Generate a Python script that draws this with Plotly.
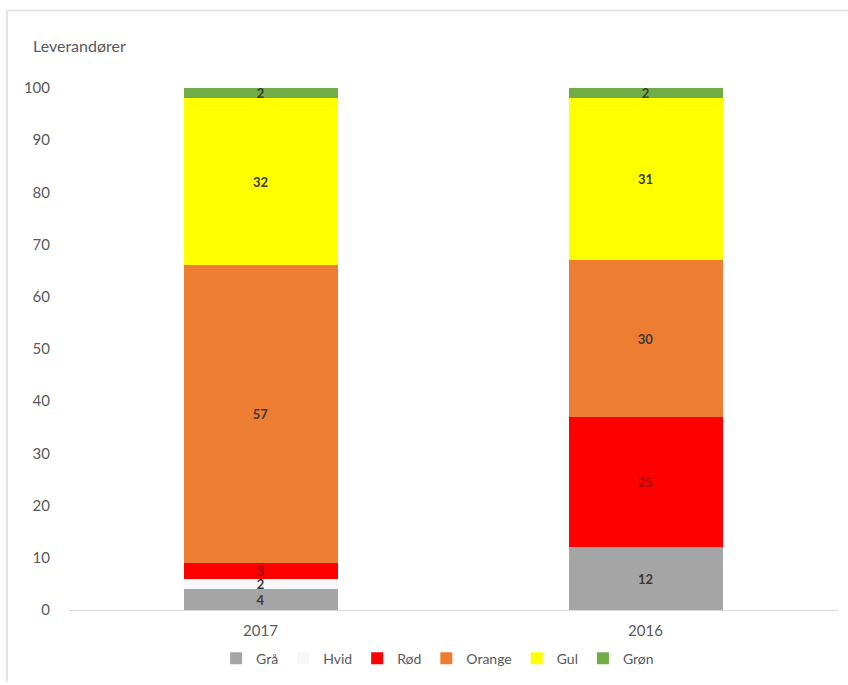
import plotly.graph_objects as go

# Supplier counts per rating colour, by year
years = ["2017", "2016"]
series_names = ["Grå", "Hvid", "Rød", "Orange", "Gul", "Grøn"]
graa = [4, 12]
hvid = [2, 0]
roed = [3, 25]
orange = [57, 30]
gul = [32, 31]
groen = [2, 2]
y_ticks = [0, 10, 20, 30, 40, 50, 60, 70, 80, 90, 100]

series_values = [graa, hvid, roed, orange, gul, groen]
fill_colors = ["#A5A5A5", "#F7F7F7", "#FF0000", "#ED7D31", "#FFFF00", "#70AD47"]
label_colors = ["#3A3A3A", "#3A3A3A", "#A00000", "#3A3A3A", "#3A3A3A", "#3A3A3A"]
FONT = "Lato, Carlito, sans-serif"

fig = go.Figure()
for name, vals, fc, lc in zip(series_names, series_values, fill_colors, label_colors):
    fig.add_trace(go.Bar(
        name=name,
        x=years,
        y=vals,
        marker=dict(color=fc, line=dict(width=0)),
        text=[str(v) if v else "" for v in vals],
        textposition="inside",
        insidetextanchor="middle",
        textangle=0,
        constraintext="none",
        textfont=dict(family=FONT, size=13, color=lc, weight="bold"),
        cliponaxis=False,
        hoverinfo="skip",
    ))

# Thin frame along the top and left of the chart
fig.add_shape(type="line", xref="paper", yref="paper",
              x0=-61 / 770, x1=780 / 770, y0=603 / 525, y1=603 / 525,
              line=dict(color="#E3E3E3", width=2))
fig.add_shape(type="line", xref="paper", yref="paper",
              x0=-61 / 770, x1=-61 / 770, y0=603 / 525, y1=-72 / 525,
              line=dict(color="#E3E3E3", width=2))

fig.add_annotation(text="Leverandører", xref="paper", yref="paper",
                   x=-37 / 770, y=568 / 525, xanchor="left", yanchor="middle",
                   showarrow=False,
                   font=dict(family=FONT, size=16, color="#595959"))

fig.update_layout(
    barmode="stack",
    bargap=0.6,
    width=848,
    height=685,
    margin=dict(l=68, r=10, t=88, b=72),
    paper_bgcolor="white",
    plot_bgcolor="white",
    font=dict(family=FONT, size=15, color="#595959"),
    showlegend=True,
    legend=dict(orientation="h", x=0.48, xanchor="center", y=-49 / 525, yanchor="middle",
                font=dict(size=14, color="#595959"), traceorder="normal",
                itemwidth=30, tracegroupgap=0),
    xaxis=dict(showline=True, linecolor="#D9D9D9", linewidth=1, ticks="",
               showgrid=False, ticklabelstandoff=7),
    yaxis=dict(range=[0, 100], tickvals=y_ticks, showgrid=False, zeroline=False,
               showline=False, ticks="", ticklabelstandoff=17),
)

fig.write_html("out.html")
